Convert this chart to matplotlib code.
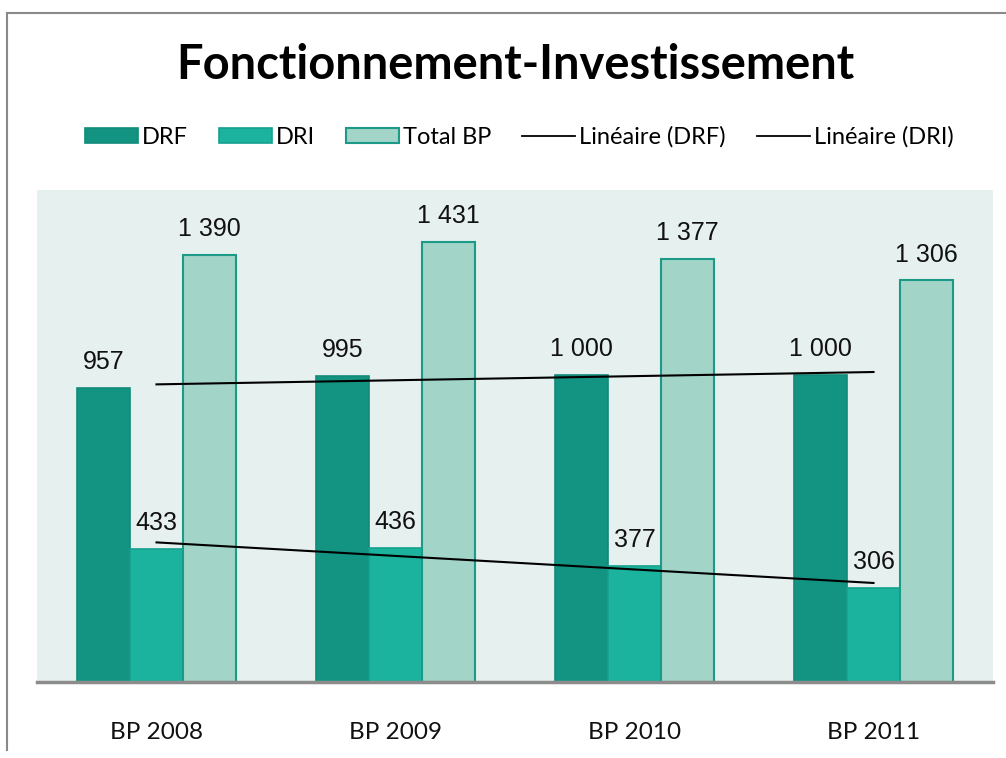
import matplotlib
matplotlib.use("Agg")
import matplotlib.pyplot as plt
import numpy as np
from matplotlib.patches import Patch
from matplotlib.lines import Line2D

categories = ["BP 2008", "BP 2009", "BP 2010", "BP 2011"]
drf = [957, 995, 1000, 1000]
dri = [433, 436, 377, 306]
total = [1390, 1431, 1377, 1306]
series_names = ["DRF", "DRI", "Total BP", "Linéaire (DRF)", "Linéaire (DRI)"]
title = "Fonctionnement-Investissement"

c_drf = "#139482"
c_dri = "#1bb39e"
c_tot = "#a2d4c8"
e_drf = "#128a79"
e_dri = "#15a08d"
e_tot = "#1a9a87"

def fmt(v):
    return f"{v:,}".replace(",", " ")

fig = plt.figure(figsize=(10.06, 7.58), dpi=100)
W, H = 1006, 758
ax = fig.add_axes([37 / W, 1 - 682 / H, (993 - 37) / W, (682 - 190) / H])
ax.set_facecolor("#e6f0ee")

x = np.arange(len(categories))
w = 0.223
b1 = ax.bar(x - w, drf, w, color=c_drf, edgecolor=e_drf, linewidth=1.2, zorder=2)
b2 = ax.bar(x, dri, w, color=c_dri, edgecolor=e_dri, linewidth=1.2, zorder=2)
b3 = ax.bar(x + w, total, w, color=c_tot, edgecolor=e_tot, linewidth=1.5, zorder=2)

lab_font = dict(family="Liberation Sans", fontsize=18, color="#111111")
for bars, vals in ((b1, drf), (b2, dri), (b3, total)):
    for r, v in zip(bars, vals):
        ax.annotate(fmt(v), (r.get_x() + r.get_width() / 2, v), xytext=(0, 10),
                    textcoords="offset points", ha="center", va="bottom", **lab_font)

# linear trend lines
for vals in (drf, dri):
    p = np.polyfit(x, vals, 1)
    ax.plot(x, np.polyval(p, x), color="black", lw=1.5, zorder=3)

ax.set_xlim(-0.5, len(categories) - 0.5)
ax.set_ylim(0, 1600)
ax.set_yticks([])
ax.set_xticks(x)
ax.set_xticklabels(categories, family="Lato", fontsize=17.5, color="#111111")
ax.tick_params(axis="x", length=0, pad=29)
for s in ("top", "left", "right"):
    ax.spines[s].set_visible(False)
ax.spines["bottom"].set_color("#8c8c8c")
ax.spines["bottom"].set_linewidth(2.5)
ax.spines["bottom"].set_zorder(4)

fig.text(515 / W, 1 - 65 / H, title, ha="center", va="center", family="Lato",
         fontweight="bold", fontsize=33.8, color="black")

fs_leg = 17
px_per_em = fs_leg * 100 / 72
handles = [
    Patch(facecolor=c_drf, edgecolor=e_drf, linewidth=1.2),
    Patch(facecolor=c_dri, edgecolor=e_dri, linewidth=1.2),
    Patch(facecolor=c_tot, edgecolor=e_tot, linewidth=1.5),
    Line2D([0], [0], color="black", lw=1.3),
    Line2D([0], [0], color="black", lw=1.3),
]
leg = fig.legend(handles, series_names, loc="center", bbox_to_anchor=(519 / W, 1 - 137 / H),
                 ncol=5, frameon=False, prop=dict(family="Lato", size=fs_leg),
                 handlelength=53 / px_per_em, handleheight=14 / px_per_em,
                 handletextpad=4 / px_per_em, columnspacing=31 / px_per_em,
                 borderaxespad=0, borderpad=0)

# outer chart frame
fig.add_artist(Line2D([7 / W, 1], [1 - 13 / H, 1 - 13 / H], color="#8a8a8a", lw=1.5,
                      transform=fig.transFigure))
fig.add_artist(Line2D([7 / W, 7 / W], [1 - 13 / H, 1 - 750 / H], color="#8a8a8a", lw=1.5,
                      transform=fig.transFigure))

fig.savefig("out.png", dpi=100)
